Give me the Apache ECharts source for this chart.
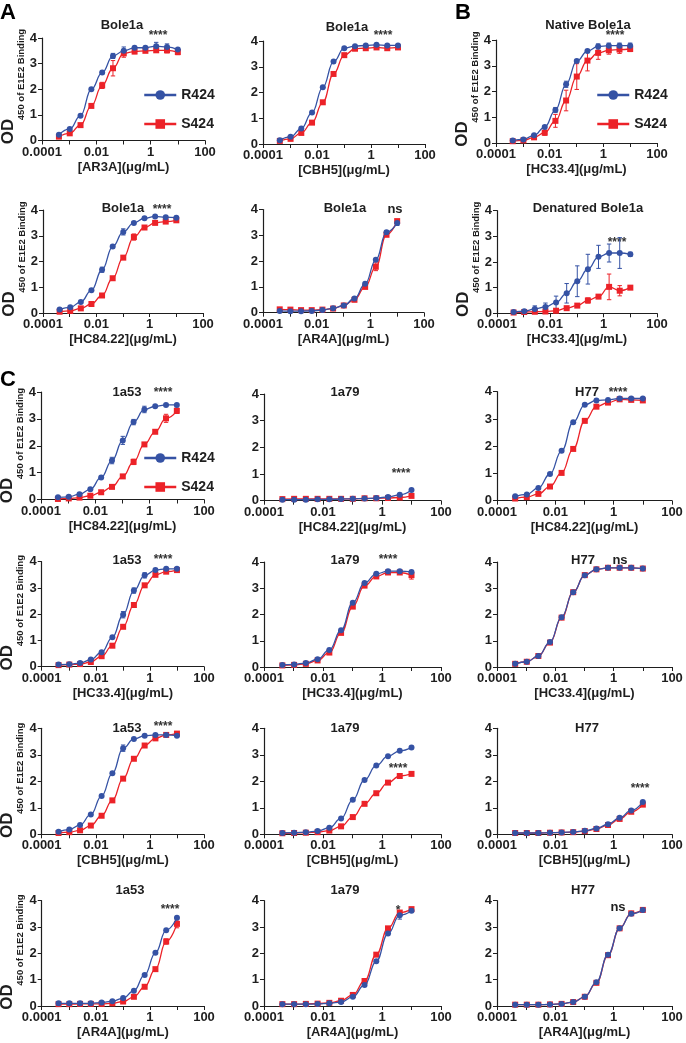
<!DOCTYPE html>
<html><head><meta charset="utf-8">
<script src="https://cdn.jsdelivr.net/npm/echarts@6/dist/echarts.min.js"></script>
<style>html,body{margin:0;padding:0;background:#fff}#c{width:686px;height:1043px}</style>
</head><body><div id="c"></div>
<script>
// ---------- DATA ----------
const conc = [0.00042,0.00105,0.00262,0.00655,0.0164,0.041,0.1024,0.256,0.64,1.6,4,10];
const xTickLabels = {'-4':'0.0001','-2':'0.01','0':'1','2':'100'};
const seriesNames = ['R424','S424'];
const panelTitles = ['Bole1a','Bole1a','Native Bole1a','Bole1a','Bole1a','Denatured Bole1a',
  '1a53','1a79','H77','1a53','1a79','H77','1a53','1a79','H77','1a53','1a79','H77'];
const antibodies = ['[AR3A]','[CBH5]','[HC33.4]','[HC84.22]','[AR4A]','[HC33.4]',
  '[HC84.22]','[HC84.22]','[HC84.22]','[HC33.4]','[HC33.4]','[HC33.4]',
  '[CBH5]','[CBH5]','[CBH5]','[AR4A]','[AR4A]','[AR4A]'];
const significance = ['****','****','****','****','ns','****','****','****','****',
  '****','****','ns','****','****','****','****','*','ns'];
const unit = '(μg/mL)';
const yAxisTitle = ['OD', '450 of E1E2 Binding'];
const panelLetters = ['A','B','C'];

// R424 / S424 mean OD values, one array per panel
const r01 = [0.22,0.45,0.97,2.0,2.65,3.3,3.5,3.62,3.62,3.68,3.65,3.55];
const s01 = [0.15,0.28,0.6,1.35,2.15,2.82,3.4,3.47,3.5,3.52,3.52,3.45];
const r02 = [0.15,0.28,0.6,1.22,2.2,3.2,3.72,3.8,3.83,3.85,3.83,3.83];
const s02 = [0.12,0.2,0.43,0.83,1.62,2.72,3.45,3.7,3.72,3.75,3.72,3.75];
const r03 = [0.1,0.14,0.3,0.62,1.28,2.28,3.18,3.57,3.75,3.78,3.78,3.78];
const s03 = [0.07,0.1,0.22,0.4,0.86,1.65,2.58,3.2,3.5,3.6,3.63,3.65];
const r04 = [0.14,0.22,0.43,0.88,1.68,2.58,3.15,3.5,3.68,3.75,3.72,3.7];
const s04 = [0.05,0.08,0.18,0.35,0.68,1.35,2.15,2.95,3.32,3.5,3.55,3.6];
const r05 = [0.07,0.06,0.06,0.07,0.1,0.17,0.28,0.55,1.12,2.05,3.12,3.48];
const s05 = [0.13,0.12,0.1,0.1,0.12,0.16,0.28,0.5,1.0,1.78,3.02,3.55];
const r06 = [0.05,0.08,0.17,0.25,0.42,0.78,1.25,1.72,2.2,2.35,2.35,2.3];
const s06 = [0.03,0.05,0.06,0.07,0.1,0.2,0.3,0.5,0.65,1.03,0.88,1.0];
const r07 = [0.08,0.1,0.2,0.38,0.82,1.45,2.2,2.88,3.35,3.47,3.52,3.52];
const s07 = [0.02,0.04,0.07,0.14,0.27,0.47,0.86,1.4,2.05,2.52,3.02,3.3];
const r08 = [0.04,0.04,0.04,0.05,0.05,0.06,0.07,0.08,0.1,0.14,0.22,0.4];
const s08 = [0.06,0.07,0.07,0.07,0.07,0.07,0.07,0.09,0.09,0.1,0.12,0.18];
const r09 = [0.16,0.23,0.47,0.98,1.83,2.88,3.52,3.68,3.7,3.75,3.75,3.75];
const s09 = [0.08,0.13,0.25,0.52,1.02,1.9,2.93,3.45,3.6,3.72,3.7,3.68];
const r10 = [0.08,0.09,0.14,0.27,0.55,1.12,1.98,2.9,3.48,3.68,3.73,3.73];
const s10 = [0.06,0.08,0.1,0.18,0.4,0.8,1.52,2.35,3.1,3.5,3.62,3.68];
const r11 = [0.08,0.1,0.15,0.3,0.65,1.4,2.45,3.2,3.55,3.65,3.65,3.62];
const s11 = [0.06,0.08,0.12,0.25,0.55,1.3,2.3,3.1,3.45,3.6,3.6,3.5];
const r12 = [0.12,0.2,0.42,0.95,1.9,2.85,3.5,3.72,3.78,3.78,3.78,3.75];
const s12 = [0.12,0.2,0.42,0.93,1.88,2.85,3.5,3.72,3.78,3.78,3.78,3.75];
const r13 = [0.1,0.18,0.35,0.75,1.45,2.3,3.25,3.6,3.72,3.75,3.75,3.72];
const s13 = [0.05,0.08,0.15,0.33,0.7,1.28,2.1,2.85,3.35,3.62,3.75,3.8];
const r14 = [0.05,0.06,0.08,0.12,0.25,0.6,1.3,2.05,2.6,2.95,3.15,3.28];
const s14 = [0.04,0.05,0.06,0.08,0.14,0.3,0.65,1.15,1.55,1.95,2.2,2.28];
const r15 = [0.05,0.05,0.05,0.06,0.07,0.09,0.13,0.22,0.38,0.62,0.9,1.22];
const s15 = [0.05,0.05,0.05,0.06,0.07,0.08,0.12,0.2,0.35,0.58,0.85,1.12];
const r16 = [0.1,0.1,0.1,0.1,0.13,0.18,0.3,0.58,1.18,2.02,2.88,3.35];
const s16 = [0.07,0.07,0.08,0.08,0.08,0.1,0.17,0.35,0.73,1.4,2.45,3.12];
const r17 = [0.07,0.07,0.07,0.08,0.1,0.15,0.35,0.8,1.7,2.75,3.45,3.62];
const s17 = [0.07,0.07,0.08,0.09,0.12,0.2,0.42,0.95,1.95,2.95,3.55,3.68];
const r18 = [0.05,0.05,0.05,0.06,0.08,0.15,0.35,0.9,1.95,2.95,3.5,3.65];
const s18 = [0.05,0.05,0.05,0.06,0.08,0.15,0.35,0.88,1.93,2.95,3.52,3.65];

// error bar half-widths (SD) where visible
const er01 = [0,0,0,0,0.05,0.1,0.15,0.05,0.05,0.15,0.12,0.05];
const es01 = [0,0,0,0,0.12,0.3,0.15,0.08,0.05,0.05,0.1,0.1];
const er03 = [0,0,0,0.05,0.1,0.12,0.05,0.05,0.1,0.1,0.1,0.1];
const es03 = [0,0,0,0.1,0.25,0.4,0.5,0.4,0.25,0.15,0.15,0.1];
const er04 = [0,0,0,0,0.1,0.05,0.12,0.05,0,0,0,0];
const es04 = [0,0,0,0,0,0,0.05,0.12,0,0,0,0];
const es05 = [0,0,0,0,0,0,0,0,0.05,0.15,0,0.05];
const er05 = [0,0,0,0,0,0,0,0,0,0,0.05,0.1];
const er06 = [0.02,0.05,0.12,0.15,0.25,0.38,0.6,0.58,0.45,0.35,0.6,0.08];
const es06 = [0.01,0.01,0.02,0.02,0.03,0.05,0.05,0.1,0.05,0.5,0.2,0.06];
const er07 = [0,0,0,0,0,0.12,0.15,0.1,0.12,0,0,0];
const es07 = [0,0,0,0,0,0,0,0.1,0,0,0.15,0.1];
const er10 = [0,0,0,0,0,0,0.12,0.1,0.1,0,0,0];
const es11 = [0,0,0,0,0,0,0,0,0,0,0,0.15];
const er13 = [0,0,0,0,0,0,0.12,0,0,0,0,0];
const es16 = [0,0,0,0,0,0,0,0,0,0,0.1,0.15];
const er17 = [0,0,0,0,0,0,0,0,0,0,0.15,0];

const rVals = [r01,r02,r03,r04,r05,r06,r07,r08,r09,r10,r11,r12,r13,r14,r15,r16,r17,r18];
const sVals = [s01,s02,s03,s04,s05,s06,s07,s08,s09,s10,s11,s12,s13,s14,s15,s16,s17,s18];
const rErr = [er01,null,er03,er04,er05,er06,er07,null,null,er10,null,null,er13,null,null,null,er17,null];
const sErr = [es01,null,es03,es04,es05,es06,es07,null,null,null,es11,null,null,null,null,es16,null,null];

// ---------- LAYOUT (pixels) ----------
const L = [
 {l:42,r:205,t:38,b:140.5, tx:122,ty:25, sx:158,sy:33, yn:true, lg:[143,88]},
 {l:263,r:425,t:41,b:144, tx:347,ty:27, sx:383,sy:33},
 {l:496,r:657,t:40,b:143, tx:588,ty:25, sx:615,sy:33, yn:true, lg:[596,88]},
 {l:43,r:203,t:210,b:313, tx:123,ty:208, sx:162,sy:207, yn:true},
 {l:263,r:424,t:209.5,b:312.7, tx:345,ty:208, sx:395,sy:209},
 {l:497,r:657,t:210.7,b:313.3, tx:588,ty:208, sx:617,sy:240, yn:true},
 {l:41,r:204,t:392,b:499.5, tx:127,ty:392, sx:163,sy:390, yn:true, lg:[143,451]},
 {l:264,r:441,t:394,b:500.7, tx:345,ty:392, sx:401,sy:471},
 {l:497,r:672,t:391.7,b:500.7, tx:587,ty:392, sx:618,sy:390},
 {l:41.7,r:204,t:561.7,b:666.7, tx:127,ty:560, sx:163,sy:557, yn:true},
 {l:264,r:441,t:562,b:667, tx:345,ty:560, sx:388,sy:557},
 {l:497,r:672,t:562,b:667, tx:583,ty:560, sx:620,sy:560},
 {l:41.7,r:204,t:728.3,b:834.3, tx:127,ty:728, sx:163,sy:724, yn:true},
 {l:264,r:441,t:728.3,b:834.3, tx:345,ty:728, sx:398,sy:766},
 {l:497,r:672,t:728.3,b:834.3, tx:587,ty:728, sx:640,sy:786},
 {l:41.7,r:204,t:900.7,b:1006, tx:130,ty:890, sx:170,sy:907, yn:true},
 {l:264,r:441,t:900.7,b:1006, tx:345,ty:890, sx:398,sy:908},
 {l:497,r:672,t:900.7,b:1006, tx:583,ty:890, sx:618,sy:907}
];

const FONT = 'Liberation Sans, Arial, Helvetica, sans-serif';
const BLUE = '#3552a4', RED = '#ec2228', INK = '#1e1e1e';

const grid=[], xAxis=[], yAxis=[], series=[], graphic=[], legend=[];

function errSeries(idx, vals, errs, color){
  return {
    type:'custom', xAxisIndex:idx, yAxisIndex:idx, z:1, silent:true,
    encode:{x:0,y:1},
    data: conc.map((c,i)=>[c, vals[i], errs[i]]),
    renderItem:function(params, api){
      const x=api.value(0), y=api.value(1), e=api.value(2);
      if(!e) return null;
      const p1=api.coord([x, y+e]), p2=api.coord([x, Math.max(0,y-e)]);
      const w=2.2, st={stroke:color, lineWidth:1};
      return {type:'group', children:[
        {type:'line', shape:{x1:p1[0],y1:p1[1],x2:p2[0],y2:p2[1]}, style:st},
        {type:'line', shape:{x1:p1[0]-w,y1:p1[1],x2:p1[0]+w,y2:p1[1]}, style:st},
        {type:'line', shape:{x1:p2[0]-w,y1:p2[1],x2:p2[0]+w,y2:p2[1]}, style:st}
      ]};
    }
  };
}

L.forEach((p, i) => {
  grid.push({left:p.l, top:p.t, width:p.r-p.l, height:p.b-p.t, containLabel:false});
  xAxis.push({
    gridIndex:i, type:'log', logBase:10, min:0.0001, max:100,
    name: antibodies[i] + unit, nameLocation:'middle', nameGap:20,
    nameTextStyle:{fontFamily:FONT, fontWeight:'bold', fontSize:13, color:INK},
    axisLine:{lineStyle:{color:INK, width:1.2}},
    axisTick:{show:true, length:4, lineStyle:{color:INK, width:1}},
    axisLabel:{interval:0, margin:5, fontFamily:FONT, fontWeight:'bold', fontSize:13, color:INK,
      formatter:function(v){ const e=Math.round(Math.log10(v)); return xTickLabels[String(e)]||''; }},
    splitLine:{show:false}, minorTick:{show:false}
  });
  yAxis.push({
    gridIndex:i, type:'value', min:0, max:4, interval:1,
    axisLine:{show:true, lineStyle:{color:INK, width:1.2}},
    axisTick:{show:true, length:4, lineStyle:{color:INK, width:1}},
    axisLabel:{margin:5, fontFamily:FONT, fontWeight:'bold', fontSize:13, color:INK},
    splitLine:{show:false}
  });
  const eS = sErr[i], eR = rErr[i];
  if (eS) series.push(errSeries(i, sVals[i], eS, RED));
  if (eR) series.push(errSeries(i, rVals[i], eR, BLUE));
  series.push({
    name:seriesNames[1], type:'line', xAxisIndex:i, yAxisIndex:i, z:2,
    data: conc.map((c,k)=>[c, sVals[i][k]]),
    smooth:0.45, smoothMonotone:'x', symbol:'rect', symbolSize:6,
    lineStyle:{color:RED, width:1.3}, itemStyle:{color:RED}
  });
  series.push({
    name:seriesNames[0], type:'line', xAxisIndex:i, yAxisIndex:i, z:3,
    data: conc.map((c,k)=>[c, rVals[i][k]]),
    smooth:0.45, smoothMonotone:'x', symbol:'circle', symbolSize:6,
    lineStyle:{color:BLUE, width:1.3}, itemStyle:{color:BLUE}
  });
  graphic.push({type:'text', x:p.tx, y:p.ty, style:{text:panelTitles[i], fill:INK,
    font:'bold 13px '+FONT, textAlign:'center', textVerticalAlign:'middle'}});
  const sig = significance[i];
  const isStar = sig.indexOf('*')>=0;
  graphic.push({type:'text', x:p.sx, y:p.sy + (isStar?3:0), style:{text:sig, fill:isStar?'#333':INK,
    font:(isStar?'bold 12px ':'bold 13px ')+FONT, textAlign:'center', textVerticalAlign:'middle'}});
  if (p.yn){
    graphic.push({type:'text', x:p.l-34, y:p.b-9, rotation:Math.PI/2, style:{text:yAxisTitle[0], fill:INK,
      font:'bold 17px '+FONT, textAlign:'center', textVerticalAlign:'middle'}});
    graphic.push({type:'text', x:p.l-21, y:p.b-66, rotation:Math.PI/2, style:{text:yAxisTitle[1], fill:INK,
      font:'bold 9.5px '+FONT, textAlign:'center', textVerticalAlign:'middle'}});
  }
  if (p.lg){
    legend.push({data:seriesNames, left:p.lg[0], top:p.lg[1], orient:'vertical', itemGap:15, padding:0,
      itemWidth:32, itemHeight:12, selectedMode:false, lineStyle:{width:2.5},
      textStyle:{fontFamily:FONT, fontWeight:'bold', fontSize:14, color:INK}});
  }
});
[[8,13],[463,13],[8,380]].forEach((pt,k)=>{
  graphic.push({type:'text', x:pt[0], y:pt[1], style:{text:panelLetters[k], fill:'#000',
    font:'bold 22px '+FONT, textAlign:'center', textVerticalAlign:'middle'}});
});

const chart = echarts.init(document.getElementById('c'), null, {renderer:'canvas'});
chart.setOption({animation:false, backgroundColor:'#fff', grid, xAxis, yAxis, series, legend, graphic});
</script></body></html>
